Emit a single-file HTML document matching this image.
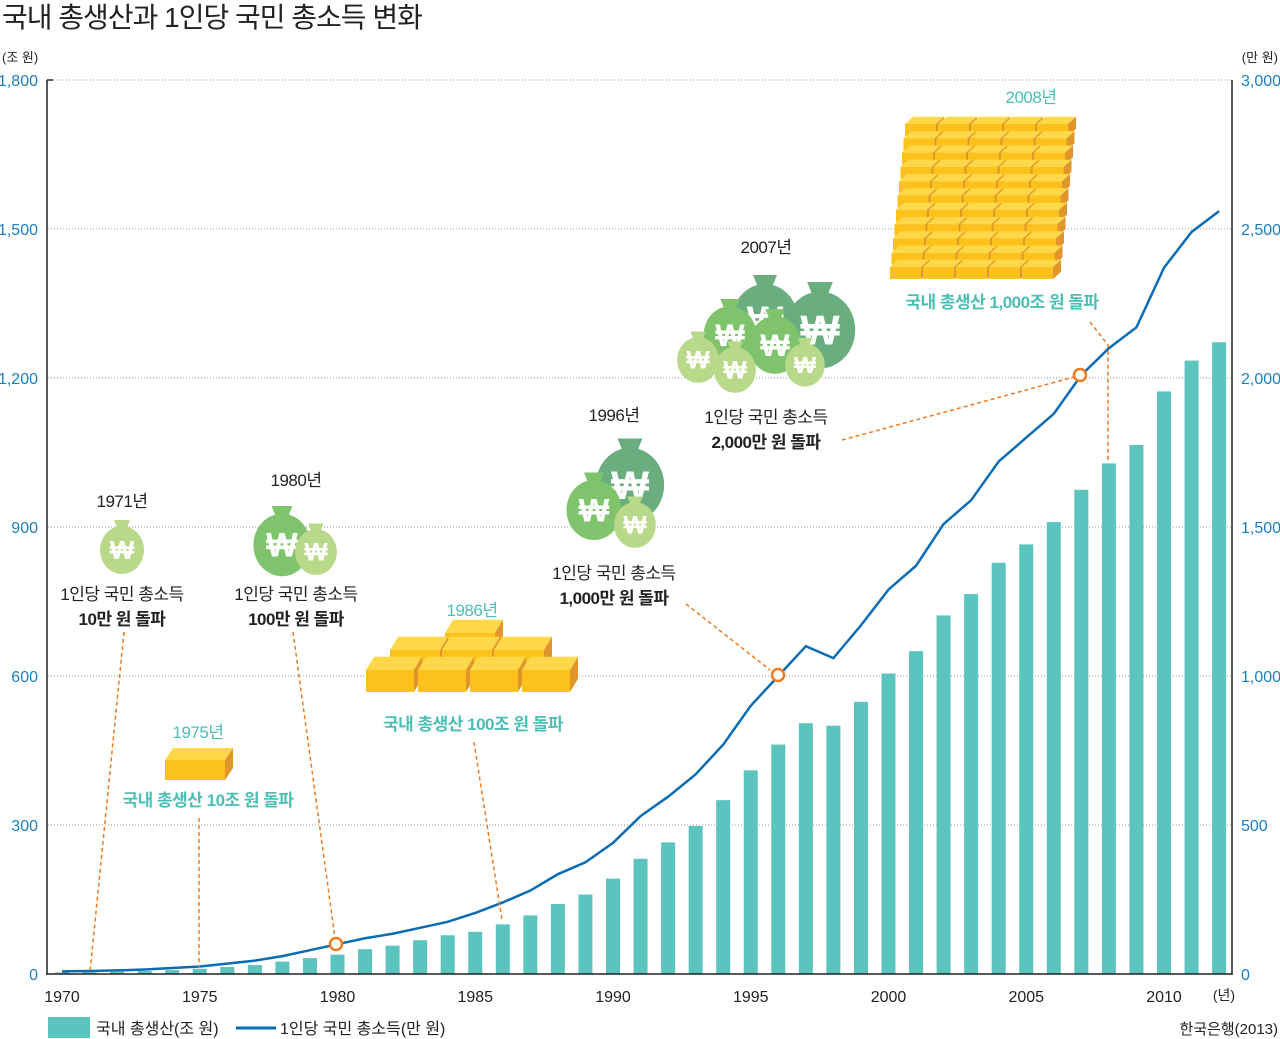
<!DOCTYPE html>
<html><head><meta charset="utf-8"><style>
body{margin:0;background:#fff;font-family:"Liberation Sans","Noto Sans CJK KR",sans-serif}
svg{display:block}
text{font-family:"Liberation Sans","Noto Sans CJK KR",sans-serif}
</style></head><body>
<svg id="c" width="1280" height="1039" viewBox="0 0 1280 1039">
<text x="2" y="27" font-size="28" fill="#222" letter-spacing="-1">국내 총생산과 1인당 국민 총소득 변화</text>
<text x="2" y="62" font-size="13" fill="#222">(조 원)</text>
<text x="1278" y="62" font-size="13" fill="#222" text-anchor="end">(만 원)</text>
<g id="grid"></g><g id="bars"></g><g id="line"></g><g id="axes"></g><g id="anno"></g>
<g>
<rect x="48" y="1017" width="42" height="21" fill="#5bc4be"/>
<text x="96" y="1034" font-size="16" fill="#222">국내 총생산(조 원)</text>
<line x1="236" y1="1028" x2="276" y2="1028" stroke="#0a6cb5" stroke-width="3"/>
<text x="280" y="1034" font-size="16" fill="#222">1인당 국민 총소득(만 원)</text>
</g>
<text x="1278" y="1034" font-size="15" fill="#222" text-anchor="end">한국은행(2013)</text>
</svg>
<script>
const years=[1970,1971,1972,1973,1974,1975,1976,1977,1978,1979,1980,1981,1982,1983,1984,1985,1986,1987,1988,1989,1990,1991,1992,1993,1994,1995,1996,1997,1998,1999,2000,2001,2002,2003,2004,2005,2006,2007,2008,2009,2010,2011,2012];
const gdp=[3,3.5,4.5,6,8,10.5,14,18,25,32,39,50,57,68,78,85,100,118,141,160,192,232,265,298,350,410,462,505,500,548,605,650,722,765,828,865,910,975,1028,1065,1173,1235,1272];
const gni=[9,10,12,15,20,25,35,45,60,80,100,120,135,155,175,205,240,280,335,375,440,530,595,670,770,900,1000,1100,1060,1170,1290,1370,1510,1590,1720,1800,1880,2010,2100,2170,2370,2490,2560];
const leftTicks=[0,300,600,900,1200,1500,1800];
const leftLabels=["0","300","600","900","1,200","1,500","1,800"];
const rightTicks=[0,500,1000,1500,2000,2500,3000];
const rightLabels=["0","500","1,000","1,500","2,000","2,500","3,000"];
const xTicks=[1970,1975,1980,1985,1990,1995,2000,2005,2010];
const NS="http://www.w3.org/2000/svg";
const X=y=>62+(y-1970)*27.55;
const YL=v=>974-v*894/1800;
const YR=v=>974-v*894/3000;
function mk(p,t,a){const e=document.createElementNS(NS,t);for(const k in a)e.setAttribute(k,a[k]);p.appendChild(e);return e;}
const g=document.getElementById('grid'),b=document.getElementById('bars'),l=document.getElementById('line'),ax=document.getElementById('axes'),an=document.getElementById('anno');
leftTicks.forEach((v,i)=>{
 if(v>0){const gl=mk(g,'line',{x1:48,x2:1232,y1:YL(v),y2:YL(v),stroke:'#999','stroke-dasharray':'1,2'});
 }
 const t=mk(ax,'text',{x:38,y:YL(v)+6,'font-size':16,fill:'#1a7fc0','text-anchor':'end'});t.textContent=leftLabels[i];
 
});
rightTicks.forEach((v,i)=>{
 const t=mk(ax,'text',{x:1241,y:YR(v)+6,'font-size':16,fill:'#1a7fc0'});t.textContent=rightLabels[i];
 
});
xTicks.forEach(v=>{
 const t=mk(ax,'text',{x:X(v),y:1002,'font-size':16,fill:'#222','text-anchor':'middle'});t.textContent=v;
 
});
const yu=mk(ax,'text',{x:1224,y:1000,'font-size':14,fill:'#222','text-anchor':'middle'});yu.textContent='(년)';

years.forEach((y,i)=>{
 const r=mk(b,'rect',{x:X(y)-7,y:YL(gdp[i]),width:14,height:974-YL(gdp[i]),fill:'#5bc4be'});
 
});
const pl=mk(l,'polyline',{points:years.map((y,i)=>X(y)+','+YR(gni[i])).join(' '),fill:'none',stroke:'#0a6cb5','stroke-width':2.5});

[[47,80,47,975],[47,974,1232,974],[1232,80,1232,975],[47,80,53,80]].forEach(c=>{
 const a=mk(ax,'line',{x1:c[0],y1:c[1],x2:c[2],y2:c[3],stroke:'#222','stroke-width':1.5});
 });
function txt(x,y,s,sz,fill,w,name){const t=mk(an,'text',{x:x,y:y,'font-size':sz,fill:fill,'text-anchor':'middle','font-weight':w||'normal','letter-spacing':'-0.5'});t.textContent=s;}
function dash(pts){const p=mk(an,'polyline',{points:pts,fill:'none',stroke:'#f07b20','stroke-width':1.5,'stroke-dasharray':'4,3'});}
function circ(x,y){const c=mk(an,'circle',{cx:x,cy:y,r:6,fill:'#fff',stroke:'#f07b20','stroke-width':2.5});}
function bag(x,y,s,col){const e=mk(an,'g',{});
 mk(e,'path',{d:`M${x-8*s},${y-30*s} L${x+8*s},${y-30*s} L${x+4*s},${y-20*s} L${x-4*s},${y-20*s}Z`,fill:col});
 mk(e,'ellipse',{cx:x,cy:y,rx:22*s,ry:24*s,fill:col});
 const t=mk(e,'text',{x:x,y:y+9*s,'font-size':26*s,fill:'#fff','text-anchor':'middle','font-weight':'bold'});t.textContent='₩';}
function gold(x,y,w,h){const e=mk(an,'g',{});
 mk(e,'polygon',{points:`${x},${y} ${x+w},${y} ${x+w+8},${y-h*0.6} ${x+8},${y-h*0.6}`,fill:'#ffd84a'});
 mk(e,'polygon',{points:`${x},${y} ${x+w},${y} ${x+w},${y+h} ${x},${y+h}`,fill:'#fcc21b'});
 mk(e,'polygon',{points:`${x+w},${y} ${x+w+8},${y-h*0.6} ${x+w+8},${y+h*0.4} ${x+w},${y+h}`,fill:'#e0962a'});}
bag(122,550,1,'#b9d98a');
txt(122,507,'1971년',17,'#222','normal','label-1971-year');
txt(122,600,'1인당 국민 총소득',17,'#222','normal','label-1971-line1');
txt(122,625,'10만 원 돌파',17,'#222','bold','label-1971-line2');
dash('124,632 90,972');
gold(165,760,60,20);
txt(198,738,'1975년',17,'#4bbfb5','normal','label-1975-year');
txt(208,806,'국내 총생산 10조 원 돌파',17,'#4bbfb5','bold','label-1975-text');
dash('199,818 199,968');
bag(282,545,1.3,'#7fc46c');bag(316,552,0.95,'#b9d98a');
txt(296,486,'1980년',17,'#222','normal','label-1980-year');
txt(296,600,'1인당 국민 총소득',17,'#222','normal','label-1980-line1');
txt(296,625,'100만 원 돌파',17,'#222','bold','label-1980-line2');
dash('293,632 335,938');circ(336,944);
[[445,633,50],[390,650,50],[442,650,50],[494,650,50],[366,670,48],[418,670,48],[470,670,48],[522,670,48]].forEach(p=>gold(p[0],p[1],p[2],22));
txt(472,616,'1986년',17,'#4bbfb5','normal','label-1986-year');
txt(473,730,'국내 총생산 100조 원 돌파',17,'#4bbfb5','bold','label-1986-text');
dash('474,742 502,920');
bag(630,485,1.55,'#6aae80');bag(594,510,1.25,'#7fc46c');bag(635,525,0.95,'#b9d98a');
txt(614,421,'1996년',17,'#222','normal','label-1996-year');
txt(614,579,'1인당 국민 총소득',17,'#222','normal','label-1996-line1');
txt(614,604,'1,000만 원 돌파',17,'#222','bold','label-1996-line2');
dash('686,604 770,670');circ(778,675);
bag(765,320,1.5,'#6aae80');bag(820,330,1.6,'#6aae80');bag(730,335,1.2,'#7fc46c');bag(775,345,1.2,'#7fc46c');bag(698,360,0.95,'#b9d98a');bag(735,370,0.95,'#b9d98a');bag(805,365,0.9,'#b9d98a');
txt(766,253,'2007년',17,'#222','normal','label-2007-year');
txt(766,423,'1인당 국민 총소득',17,'#222','normal','label-2007-line1');
txt(766,448,'2,000만 원 돌파',17,'#222','bold','label-2007-line2');
dash('842,440 1074,377');circ(1080,375);
for(let r=0;r<11;r++)for(let c=0;c<5;c++)gold(890+c*33+(10-r)*1.5,124+r*14.3,31,12);
txt(1031,103,'2008년',17,'#4bbfb5','normal','label-2008-year');
txt(1002,308,'국내 총생산 1,000조 원 돌파',17,'#4bbfb5','bold','label-2008-text');
dash('1090,322 1108,345 1108,460');
</script>
</body></html>
